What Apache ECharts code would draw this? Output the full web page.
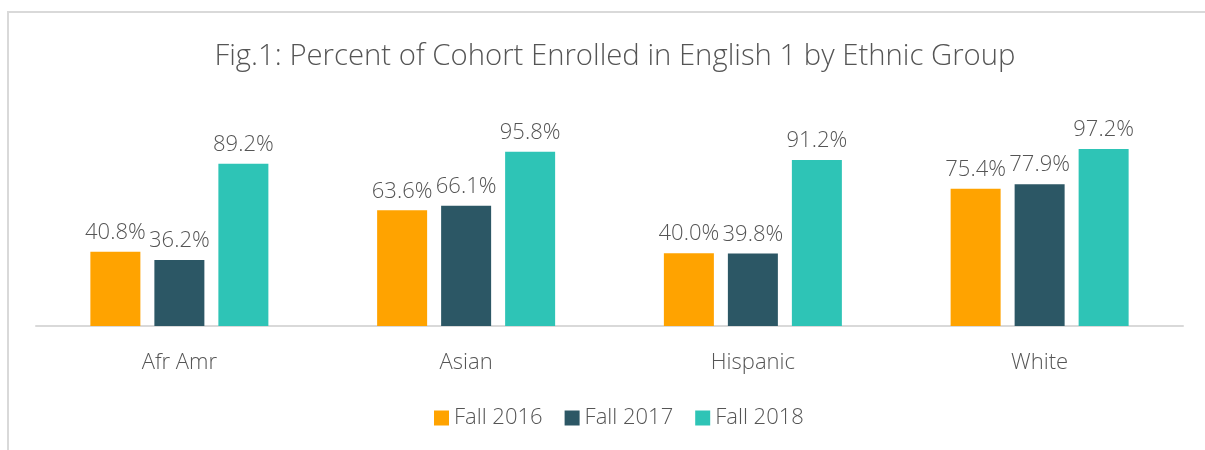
<!DOCTYPE html>
<html>
<head>
<meta charset="utf-8">
<script src="https://cdn.jsdelivr.net/npm/echarts@6/dist/echarts.min.js"></script>
<style>
  html, body { margin: 0; padding: 0; background: #fff; }
  #wrap { position: relative; width: 1205px; height: 450px; overflow: hidden; }
  #chart { width: 1205px; height: 450px; }
  .frame {
    position: absolute; left: 7px; top: 11px; width: 1300px; height: 600px;
    border: 2px solid #d9d9d9; pointer-events: none;
  }
</style>
</head>
<body>
<div id="wrap">
  <div id="chart"></div>
  <div class="frame"></div>
</div>
<script>
// 数据
var categories = ["Afr Amr", "Asian", "Hispanic", "White"];
var seriesNames = ["Fall 2016", "Fall 2017", "Fall 2018"];
var fall2016 = [40.8, 63.6, 40.0, 75.4];
var fall2017 = [36.2, 66.1, 39.8, 77.9];
var fall2018 = [89.2, 95.8, 91.2, 97.2];
var colors = ["#ffa300", "#2c5765", "#2ec4b6"];

var font = "'Open Sans', 'Noto Sans', sans-serif";
var textColor = "#555555";

var chart = echarts.init(document.getElementById("chart"));

function makeSeries(name, data, color) {
  return {
    name: name,
    type: "bar",
    data: data,
    barWidth: 50,
    barGap: "28%",
    itemStyle: { color: color },
    label: {
      show: true,
      position: "top",
      distance: 8,
      formatter: function(p) {
        return p.value.toFixed(1) + "%";
      },
      color: textColor,
      fontFamily: font,
      fontWeight: 300,
      fontSize: 22
    }
  };
}

var option = {
  animation: false,
  title: {
    text: "Fig.1: Percent of Cohort Enrolled in English 1 by Ethnic Group",
    left: 610,
    textAlign: "center",
    top: 37,
    textStyle: {
      color: textColor,
      fontFamily: font,
      fontWeight: 300,
      fontSize: 29.3
    }
  },
  legend: {
    bottom: 16,
    left: 429,
    itemWidth: 15,
    itemHeight: 15,
    itemGap: 22,
    icon: "rect",
    data: seriesNames,
    textStyle: {
      color: textColor,
      fontFamily: font,
      fontWeight: 300,
      fontSize: 22
    }
  },
  grid: {
    left: 36,
    right: 22,
    top: 144,
    bottom: 124
  },
  xAxis: {
    type: "category",
    data: categories,
    axisLine: { lineStyle: { color: "#d9d9d9", width: 2 } },
    axisTick: { show: false },
    axisLabel: {
      margin: 26,
      color: textColor,
      fontFamily: font,
      fontWeight: 300,
      fontSize: 22
    }
  },
  yAxis: {
    type: "value",
    min: 0,
    max: 100,
    show: false,
    splitLine: { show: false }
  },
  series: [
    makeSeries(seriesNames[0], fall2016, colors[0]),
    makeSeries(seriesNames[1], fall2017, colors[1]),
    makeSeries(seriesNames[2], fall2018, colors[2])
  ]
};

chart.setOption(option);
</script>
</body>
</html>
